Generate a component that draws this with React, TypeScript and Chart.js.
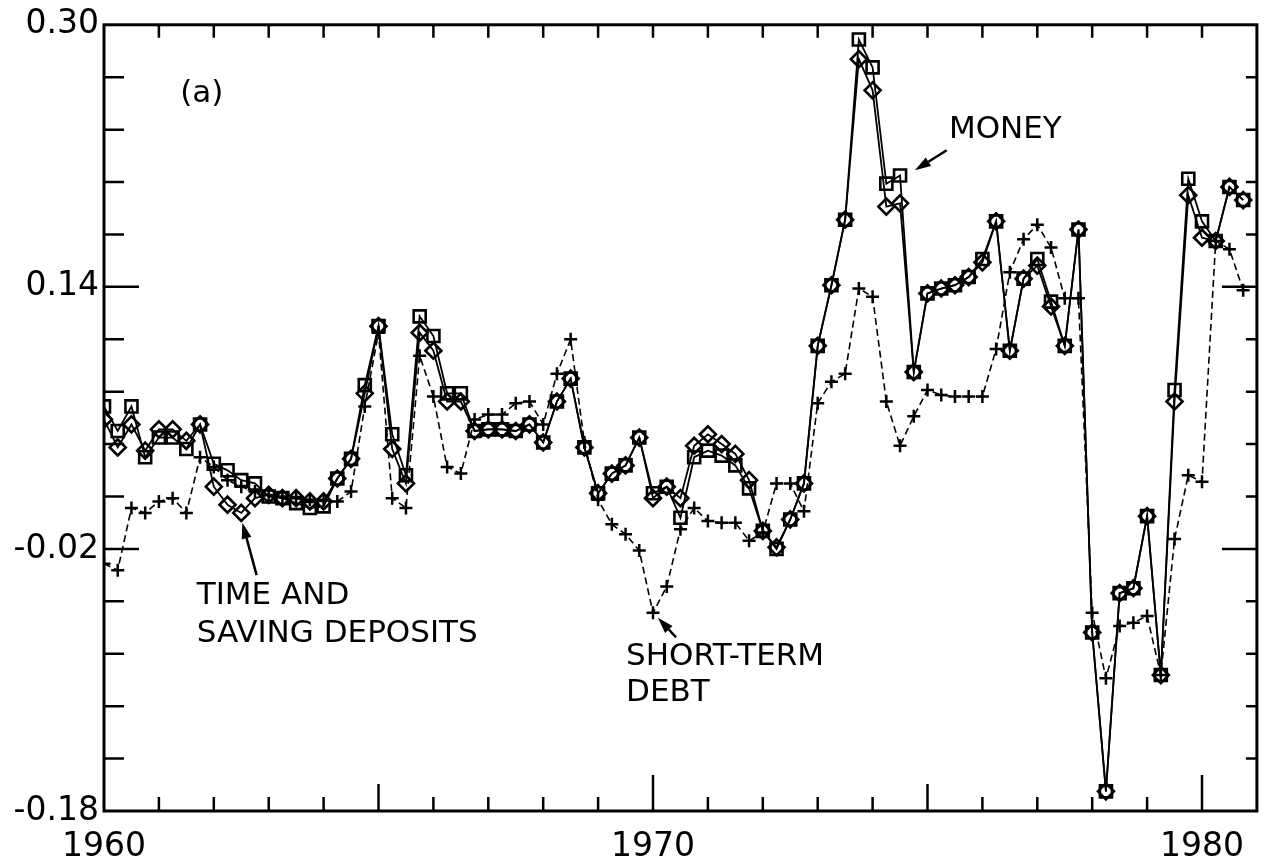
import React, { useEffect, useRef } from "react";
import { Chart, registerables } from "chart.js";

Chart.register(...registerables);

// Quarterly observations, 1960Q1 .. 1980Q4
const START_YEAR = 1960;
const QUARTERS = 84;

const money: number[] = [
  0.067, 0.052, 0.067, 0.036, 0.048, 0.048, 0.041, 0.056,
  0.032, 0.028, 0.022, 0.020, 0.012, 0.011, 0.008, 0.005,
  0.006, 0.023, 0.035, 0.080, 0.116, 0.050, 0.025, 0.122,
  0.110, 0.075, 0.075, 0.052, 0.053, 0.053, 0.052, 0.056,
  0.045, 0.070, 0.084, 0.042, 0.014, 0.026, 0.031, 0.048,
  0.014, 0.018, -0.001, 0.036, 0.040, 0.037, 0.031, 0.017,
  -0.009, -0.020, -0.002, 0.020, 0.104, 0.141, 0.181, 0.291,
  0.274, 0.203, 0.208, 0.088, 0.136, 0.139, 0.141, 0.146,
  0.157, 0.180, 0.101, 0.145, 0.157, 0.131, 0.104, 0.175,
  -0.071, -0.168, -0.047, -0.044, 0.000, -0.097, 0.077, 0.206,
  0.180, 0.168, 0.201, 0.193,
];

const timeDeposits: number[] = [
  0.059, 0.042, 0.056, 0.040, 0.053, 0.053, 0.046, 0.056,
  0.018, 0.007, 0.002, 0.011, 0.013, 0.011, 0.011, 0.009,
  0.009, 0.023, 0.035, 0.075, 0.116, 0.041, 0.020, 0.112,
  0.101, 0.070, 0.070, 0.052, 0.053, 0.053, 0.052, 0.056,
  0.045, 0.070, 0.084, 0.042, 0.014, 0.026, 0.031, 0.048,
  0.011, 0.018, 0.011, 0.043, 0.050, 0.044, 0.038, 0.022,
  -0.009, -0.019, -0.002, 0.020, 0.104, 0.141, 0.181, 0.279,
  0.260, 0.189, 0.191, 0.088, 0.136, 0.139, 0.141, 0.146,
  0.155, 0.180, 0.101, 0.145, 0.153, 0.128, 0.104, 0.175,
  -0.071, -0.168, -0.047, -0.044, 0.000, -0.097, 0.070, 0.196,
  0.170, 0.168, 0.201, 0.193,
];

const shortTermDebt: number[] = [
  -0.029, -0.033, 0.005, 0.002, 0.009, 0.011, 0.002, 0.036,
  0.030, 0.022, 0.018, 0.015, 0.013, 0.012, 0.011, 0.010,
  0.010, 0.009, 0.015, 0.067, 0.112, 0.011, 0.005, 0.098,
  0.073, 0.030, 0.026, 0.059, 0.062, 0.062, 0.069, 0.070,
  0.056, 0.087, 0.108, 0.045, 0.010, -0.005, -0.011, -0.021,
  -0.059, -0.043, -0.008, 0.005, -0.003, -0.004, -0.004, -0.015,
  -0.010, 0.020, 0.020, 0.003, 0.069, 0.082, 0.087, 0.139,
  0.134, 0.070, 0.043, 0.061, 0.077, 0.074, 0.073, 0.073,
  0.073, 0.102, 0.149, 0.169, 0.178, 0.164, 0.133, 0.133,
  -0.059, -0.099, -0.067, -0.065, -0.061, -0.097, -0.014, 0.025,
  0.021, 0.168, 0.163, 0.138,
];

const xLabels = [1960, 1970, 1980];
const yLabels = [-0.18, -0.02, 0.14, 0.3];
const yMinorTicks = [0.268, 0.236, 0.204, 0.172, 0.14, 0.108, 0.076, 0.044, 0.012, -0.02, -0.052, -0.084, -0.116, -0.148];
const yMajorTicks = [0.14, -0.02];
const xYearTicks = [1961, 1962, 1963, 1964, 1965, 1966, 1967, 1968, 1969, 1970, 1971, 1972, 1973, 1974, 1975, 1976, 1977, 1978, 1979, 1980];

// annotations in data coordinates
const texts = [
  { text: "(a)", x: 1961.78, y: 0.258, align: "center" },
  { text: "MONEY", x: 1975.39, y: 0.2356, align: "left" },
  { text: "TIME AND", x: 1961.69, y: -0.049, align: "left" },
  { text: "SAVING DEPOSITS", x: 1961.69, y: -0.072, align: "left" },
  { text: "SHORT-TERM", x: 1969.51, y: -0.086, align: "left" },
  { text: "DEBT", x: 1969.51, y: -0.108, align: "left" },
];
const arrows = [
  { x1: 1975.35, y1: 0.2234, x2: 1974.77, y2: 0.2112 },
  { x1: 1962.78, y1: -0.036, x2: 1962.52, y2: -0.004 },
  { x1: 1970.42, y1: -0.074, x2: 1970.09, y2: -0.062 },
];

const FONT = "DejaVu Sans";

const toPoints = (arr: number[]) =>
  arr.slice(0, QUARTERS).map((v, i) => ({ x: START_YEAR + i / 4, y: v }));

const framePlugin = {
  id: "frameTicks",
  afterDatasetsDraw(chart: any) {
    const { ctx, chartArea: a, scales } = chart;
    const xs = scales.x;
    const ys = scales.y;
    ctx.save();
    ctx.strokeStyle = "#000";
    ctx.lineWidth = 3;
    ctx.strokeRect(a.left, a.top, a.right - a.left, a.bottom - a.top);
    ctx.lineWidth = 2.5;
    ctx.beginPath();
    for (const v of yMinorTicks) {
      const y = ys.getPixelForValue(v);
      const major = yMajorTicks.some((m) => Math.abs(m - v) < 1e-6);
      ctx.moveTo(a.left, y);
      ctx.lineTo(a.left + (major ? 35 : 20), y);
      ctx.moveTo(a.right, y);
      ctx.lineTo(a.right - (major ? 35 : 11), y);
    }
    for (const yr of xYearTicks) {
      const x = xs.getPixelForValue(yr);
      const len = yr % 10 === 0 ? 36 : yr % 5 === 0 ? 27 : 14;
      ctx.moveTo(x, a.bottom);
      ctx.lineTo(x, a.bottom - len);
      ctx.moveTo(x, a.top);
      ctx.lineTo(x, a.top + 13);
    }
    ctx.stroke();

    // annotations
    ctx.fillStyle = "#000";
    ctx.font = `31px "${FONT}"`;
    ctx.textBaseline = "middle";
    for (const t of texts) {
      ctx.textAlign = t.align as CanvasTextAlign;
      ctx.fillText(t.text, xs.getPixelForValue(t.x), ys.getPixelForValue(t.y));
    }
    ctx.lineWidth = 2.5;
    for (const ar of arrows) {
      const x1 = xs.getPixelForValue(ar.x1);
      const y1 = ys.getPixelForValue(ar.y1);
      const x2 = xs.getPixelForValue(ar.x2);
      const y2 = ys.getPixelForValue(ar.y2);
      const ang = Math.atan2(y2 - y1, x2 - x1);
      const hl = 16;
      const hw = 5;
      const bx = x2 - hl * Math.cos(ang);
      const by = y2 - hl * Math.sin(ang);
      ctx.beginPath();
      ctx.moveTo(x1, y1);
      ctx.lineTo(bx, by);
      ctx.stroke();
      ctx.beginPath();
      ctx.moveTo(x2, y2);
      ctx.lineTo(bx + hw * Math.sin(ang), by - hw * Math.cos(ang));
      ctx.lineTo(bx - hw * Math.sin(ang), by + hw * Math.cos(ang));
      ctx.closePath();
      ctx.fill();
    }
    ctx.restore();
  },
};

export default function App() {
  const ref = useRef<HTMLCanvasElement | null>(null);

  useEffect(() => {
    if (!ref.current) return;
    const chart = new Chart(ref.current, {
      type: "line",
      data: {
        datasets: [
          {
            label: "Money",
            data: toPoints(money),
            borderColor: "#000",
            borderWidth: 1.8,
            pointStyle: "rect",
            pointRadius: 8.5,
            pointBorderWidth: 2.6,
            pointBorderColor: "#000",
            pointBackgroundColor: "rgba(0,0,0,0)",
            tension: 0,
          },
          {
            label: "Time and saving deposits",
            data: toPoints(timeDeposits),
            borderColor: "#000",
            borderWidth: 1.8,
            pointStyle: "rectRot",
            pointRadius: 8,
            pointBorderWidth: 2.6,
            pointBorderColor: "#000",
            pointBackgroundColor: "rgba(0,0,0,0)",
            tension: 0,
          },
          {
            label: "Short-term debt",
            data: toPoints(shortTermDebt),
            borderColor: "#000",
            borderWidth: 1.6,
            borderDash: [7, 4],
            pointStyle: "cross",
            pointRadius: 6.5,
            pointBorderWidth: 2.5,
            pointBorderColor: "#000",
            tension: 0,
          },
        ],
      } as any,
      options: {
        responsive: false,
        animation: false,
        devicePixelRatio: 1,
        layout: { padding: { top: 22, right: 7, left: 0, bottom: 0 } },
        plugins: { legend: { display: false }, tooltip: { enabled: false } },
        scales: {
          x: {
            type: "linear",
            min: 1960,
            max: 1981,
            grid: { display: false, drawTicks: false },
            border: { display: false },
            afterBuildTicks: (s: any) => {
              s.ticks = xLabels.map((v) => ({ value: v }));
            },
            afterFit: (s: any) => {
              s.height = 55;
            },
            ticks: {
              autoSkip: false,
              maxRotation: 0,
              padding: 17,
              color: "#000",
              font: { family: FONT, size: 33 },
              callback: (v: any) => String(v),
            },
          },
          y: {
            type: "linear",
            min: -0.18,
            max: 0.3,
            grid: { display: false, drawTicks: false },
            border: { display: false },
            afterBuildTicks: (s: any) => {
              s.ticks = yLabels.map((v) => ({ value: v }));
            },
            afterFit: (s: any) => {
              s.width = 104;
            },
            ticks: {
              autoSkip: false,
              padding: 5,
              color: "#000",
              font: { family: FONT, size: 33 },
              callback: (v: any) => Number(v).toFixed(2),
            },
          },
        },
      } as any,
      plugins: [framePlugin],
    });
    return () => chart.destroy();
  }, []);

  return (
    <div style={{ position: "absolute", left: 0, top: 0, width: 1268, height: 866, background: "#fff" }}>
      <canvas ref={ref} width={1268} height={866} />
    </div>
  );
}
